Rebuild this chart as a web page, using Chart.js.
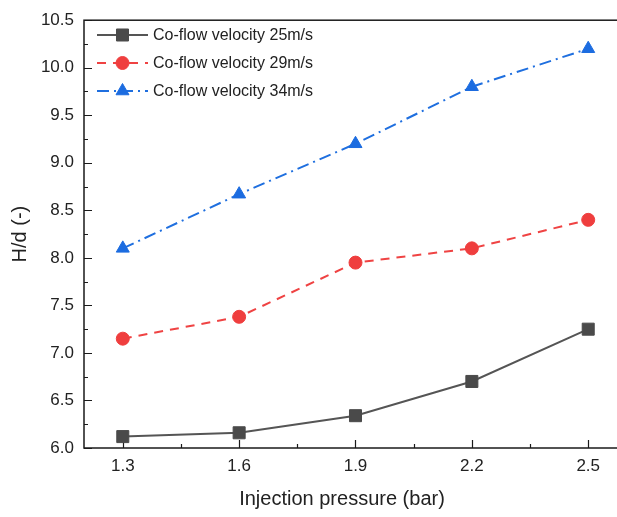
<!DOCTYPE html>
<html>
<head>
<meta charset="utf-8">
<script src="https://cdn.jsdelivr.net/npm/chart.js@4.4.0/dist/chart.umd.min.js"></script>
<style>
  html, body { margin: 0; padding: 0; background: #fff; overflow: hidden; }
  #hdChart { position: absolute; left: 0; top: 0; }
</style>
</head>
<body>
<canvas id="hdChart" width="640" height="517"></canvas>
<script>
// Injection pressure (bar)
const pressures = [1.3, 1.6, 1.9, 2.2, 2.5];

// H/d (-) for each co-flow velocity
const hd25 = [6.12, 6.16, 6.34, 6.70, 7.25];
const hd29 = [7.15, 7.38, 7.95, 8.10, 8.40];
const hd34 = [8.10, 8.67, 9.20, 9.80, 10.20];

const seriesLabels = ['Co-flow velocity 25m/s', 'Co-flow velocity 29m/s', 'Co-flow velocity 34m/s'];
const yTicks = [6.0, 6.5, 7.0, 7.5, 8.0, 8.5, 9.0, 9.5, 10.0, 10.5];

const FONT = '"Liberation Sans", Arial, sans-serif';
const TEXT = '#222';

function toPoints(values) {
    return pressures.map((p, i) => ({ x: p, y: values[i] }));
}

// Frame around the plot plus inward major/minor ticks
const axisDecor = {
    id: 'axisDecor',
    beforeDatasetsDraw(chart) {
        const { ctx, chartArea: a, scales } = chart;
        ctx.save();
        ctx.strokeStyle = '#1a1a1a';
        ctx.lineWidth = 1.5;
        ctx.strokeRect(a.left, a.top, a.right - a.left, a.bottom - a.top);

        ctx.lineWidth = 1.2;
        ctx.beginPath();
        // x ticks: majors on the pressures, minors halfway between
        for (let v = 1.3; v <= 2.61; v += 0.15) {
            const px = Math.round(scales.x.getPixelForValue(v)) + 0.5;
            const major = Math.abs(((v - 1.3) / 0.3) - Math.round((v - 1.3) / 0.3)) < 0.01;
            if (px > a.right) continue;
            ctx.moveTo(px, a.bottom);
            ctx.lineTo(px, a.bottom - (major ? 8 : 4));
        }
        // y ticks every 0.25
        for (let v = 6.0; v <= 10.51; v += 0.25) {
            const py = Math.round(scales.y.getPixelForValue(v)) + 0.5;
            const major = Math.abs(v * 2 - Math.round(v * 2)) < 0.01;
            ctx.moveTo(a.left, py);
            ctx.lineTo(a.left + (major ? 8 : 4), py);
        }
        ctx.stroke();
        ctx.restore();
    },
    afterDraw(chart) {
        const { ctx } = chart;
        ctx.save();
        ctx.fillStyle = TEXT;
        ctx.font = '20px ' + FONT;
        ctx.textAlign = 'center';
        ctx.textBaseline = 'middle';
        ctx.fillText('Injection pressure (bar)', 342, 499);
        ctx.restore();
    }
};

// Legend in the top-left corner: line sample, marker, label
const insideLegend = {
    id: 'insideLegend',
    afterDraw(chart) {
        const { ctx } = chart;
        chart.data.datasets.forEach((ds, i) => {
            const y = 35 + i * 28;
            ctx.save();
            ctx.strokeStyle = ds.borderColor;
            ctx.lineWidth = ds.borderWidth;
            ctx.setLineDash(ds.borderDash || []);
            ctx.beginPath();
            ctx.moveTo(97, y);
            ctx.lineTo(148, y);
            ctx.stroke();
            ctx.setLineDash([]);
            ctx.fillStyle = ds.pointBackgroundColor;
            ctx.strokeStyle = ds.pointBorderColor;
            ctx.lineWidth = 1;
            Chart.helpers.drawPoint(ctx, {
                pointStyle: ds.pointStyle,
                radius: ds.pointRadius,
                rotation: 0,
                borderWidth: 1
            }, 122.5, y);
            ctx.fillStyle = TEXT;
            ctx.font = '16px ' + FONT;
            ctx.textAlign = 'left';
            ctx.textBaseline = 'middle';
            ctx.fillText(ds.label, 153, y + 1);
            ctx.restore();
        });
    }
};

new Chart(document.getElementById('hdChart'), {
    type: 'line',
    data: {
        datasets: [{
            label: seriesLabels[0],
            data: toPoints(hd25),
            borderColor: '#555555',
            borderWidth: 2,
            pointStyle: 'rect',
            pointRadius: 8.5,
            pointBackgroundColor: '#4a4a4a',
            pointBorderColor: '#4a4a4a',
            pointBorderWidth: 1
        }, {
            label: seriesLabels[1],
            data: toPoints(hd29),
            borderColor: '#ef4343',
            borderWidth: 2,
            borderDash: [9, 7],
            pointStyle: 'circle',
            pointRadius: 6.5,
            pointBackgroundColor: '#ef3e3e',
            pointBorderColor: '#ef3e3e',
            pointBorderWidth: 1
        }, {
            label: seriesLabels[2],
            data: toPoints(hd34),
            borderColor: '#1f6fdf',
            borderWidth: 2,
            borderDash: [12, 5, 2, 5],
            pointStyle: 'triangle',
            pointRadius: 7.5,
            pointBackgroundColor: '#1c6ce0',
            pointBorderColor: '#1c6ce0',
            pointBorderWidth: 1
        }]
    },
    options: {
        responsive: false,
        animation: false,
        layout: { padding: { top: 14, right: 13, left: 0, bottom: 0 } },
        plugins: {
            legend: { display: false },
            tooltip: { enabled: false }
        },
        scales: {
            x: {
                type: 'linear',
                min: 1.2,
                max: 2.6,
                afterBuildTicks: s => { s.ticks = pressures.map(v => ({ value: v })); },
                afterFit: s => { s.height = 69; },
                grid: { display: false, drawTicks: false },
                border: { display: false },
                ticks: {
                    padding: 8,
                    color: TEXT,
                    font: { family: FONT, size: 17 },
                    callback: v => v.toFixed(1)
                }
            },
            y: {
                type: 'linear',
                min: 6,
                max: 10.5,
                afterBuildTicks: s => { s.ticks = yTicks.map(v => ({ value: v })); },
                afterFit: s => { s.width = 84; },
                grid: { display: false, drawTicks: false },
                border: { display: false },
                ticks: {
                    padding: 10,
                    color: TEXT,
                    font: { family: FONT, size: 17 },
                    callback: v => v.toFixed(1)
                },
                title: {
                    display: true,
                    text: 'H/d (-)',
                    color: TEXT,
                    font: { family: FONT, size: 20 },
                    padding: { top: 8, bottom: 0 }
                }
            }
        }
    },
    plugins: [axisDecor, insideLegend]
});
</script>
</body>
</html>
